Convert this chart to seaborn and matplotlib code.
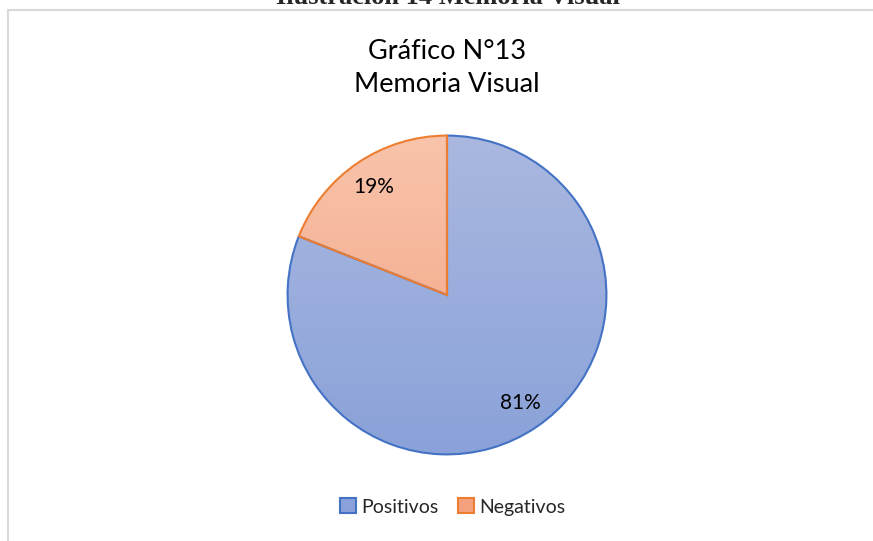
import numpy as np
import pandas as pd
import seaborn as sns
import matplotlib.pyplot as plt
from matplotlib.colors import LinearSegmentedColormap
from matplotlib.patches import Patch

sns.set_theme(style="white")
plt.rcParams['font.family'] = ['Lato', 'DejaVu Sans']

categorias = ["Positivos", "Negativos"]
porcentajes = [81, 19]
etiquetas = ["81%", "19%"]

bordes = ["#4472c4", "#ed7d31"]
grad_top = ["#aab8e0", "#f8c4ab"]
grad_bot = ["#8aa2d9", "#f4a17f"]

df = pd.DataFrame({"categoria": categorias, "pct": porcentajes})

fig = plt.figure(figsize=(8.73, 5.41), dpi=100)
fig.patch.set_facecolor("white")

# marco del gráfico (recortado a la derecha y abajo)
frame = plt.Rectangle((8 / 873, -0.1), 1.2, 1 - 10 / 541 + 0.1, transform=fig.transFigure,
                      fill=False, edgecolor="#d9d9d9", linewidth=1.5)
fig.patches.append(frame)

fig.text(448 / 873, 1 - 4 / 541, "Ilustración 14 Memoria Visual", ha="center", va="baseline",
         fontsize=19, fontweight="bold", family=["Liberation Serif", "DejaVu Serif"])

ax = fig.add_axes([(447 - 161) / 873, (541 - 456) / 541, 322 / 873, 322 / 541])
wedges, _ = ax.pie(df["pct"], startangle=90, counterclock=False, radius=1,
                   wedgeprops=dict(linewidth=1.5, edgecolor="none", facecolor="none"))

grad = np.linspace(0, 1, 256).reshape(-1, 1)
for w, top, bot, ec in zip(wedges, grad_top, grad_bot, bordes):
    cmap = LinearSegmentedColormap.from_list("g", [top, bot])
    im = ax.imshow(grad, cmap=cmap, extent=(-1, 1, -1, 1), origin="upper",
                   aspect="auto", zorder=1)
    im.set_clip_path(w)
    w.set_edgecolor(ec)
    w.set_zorder(2)

ax.set_xlim(-1.01, 1.01)
ax.set_ylim(-1.01, 1.01)
ax.set_aspect("equal")

# etiquetas de porcentaje en el centro angular de cada sector
inicio = 90
for pct, txt in zip(porcentajes, etiquetas):
    medio = np.deg2rad(inicio - 360 * pct / 100 / 2)
    ax.text(0.82 * np.cos(medio), 0.82 * np.sin(medio), txt,
            ha="center", va="center", fontsize=15, color="#000000")
    inicio -= 360 * pct / 100
ax.axis("off")

fig.text(447 / 873, 1 - 68 / 541, "Gráfico N°13\nMemoria Visual", ha="center", va="center",
         fontsize=19.5, linespacing=1.38, color="#000000")

handles = [Patch(facecolor=t, edgecolor=e, linewidth=1.5, label=c)
           for t, e, c in zip(grad_bot, bordes, categorias)]
fig.legend(handles=handles, loc="center", bbox_to_anchor=(453 / 873, 1 - 507 / 541),
           ncol=2, frameon=False, fontsize=14, handlelength=0.8, handleheight=0.8,
           handletextpad=0.3, columnspacing=1.0)

fig.savefig("out.png", dpi=100)
